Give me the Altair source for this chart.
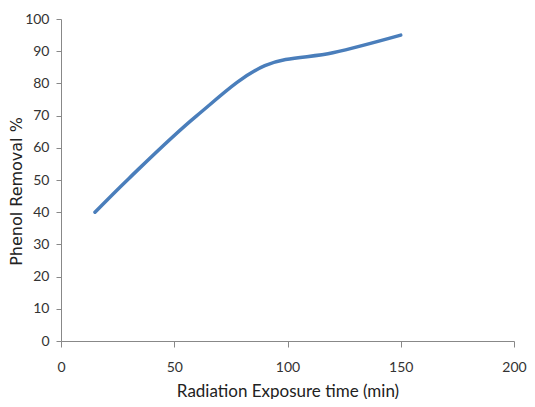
import altair as alt
import pandas as pd

time_min = [15, 30, 60, 90, 120, 150]
removal_pct = [40, 50.5, 70, 85.5, 89.5, 95]
x_ticks = [0, 50, 100, 150, 200]
y_ticks = [0, 10, 20, 30, 40, 50, 60, 70, 80, 90, 100]

df = pd.DataFrame({"t": time_min, "r": removal_pct})

chart = alt.Chart(df).mark_line(
    interpolate="catmull-rom", color="#4a7ebb", strokeWidth=3.5, strokeCap="round"
).encode(
    x=alt.X("t:Q", scale=alt.Scale(domain=[0, 200], nice=False),
            axis=alt.Axis(values=x_ticks, title="Radiation Exposure time (min)",
                          grid=False, tickSize=6, labelPadding=13, titlePadding=9,
                          labelFontSize=14, titleFontSize=17, labelFont="Lato", titleFont="Lato",
                          titleFontWeight="normal", domainColor="#888888", tickColor="#888888",
                          labelColor="#333333", titleColor="#222222", labelFlush=False)),
    y=alt.Y("r:Q", scale=alt.Scale(domain=[0, 100], nice=False),
            axis=alt.Axis(values=y_ticks, title="Phenol Removal %",
                          grid=False, tickSize=5, labelPadding=7, titlePadding=0, titleY=172,
                          labelFontSize=14, titleFontSize=16, labelFont="Lato", titleFont="DejaVu Sans",
                          titleFontWeight="normal", domainColor="#888888", tickColor="#888888",
                          labelColor="#333333", titleColor="#222222", labelFlush=False)),
).properties(
    width=453, height=322,
    padding={"left": 53, "top": 11, "right": 13, "bottom": 58},
    autosize=alt.AutoSizeParams(type="none"),
).configure_view(stroke=None)

chart.save("out.html", embed_options={"renderer": "svg", "actions": False})
